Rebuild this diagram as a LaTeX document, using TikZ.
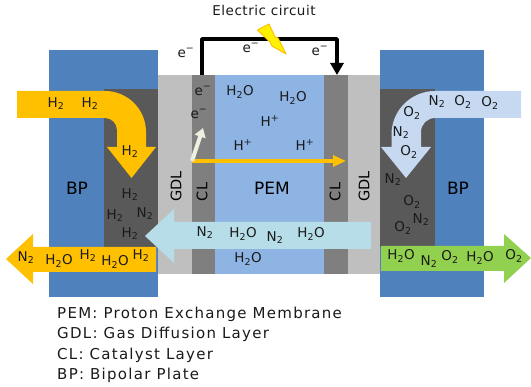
\documentclass[tikz,border=0pt]{standalone}
\usepackage{fontspec}
\setmainfont{DejaVu Sans}
\newfontfamily\legendfont[LetterSpace=8.5]{DejaVu Sans}
\newfontfamily\titlefont[LetterSpace=4]{DejaVu Sans}
\usetikzlibrary{arrows.meta}

\definecolor{bpblue}{HTML}{4F81BD}
\definecolor{darklayer}{HTML}{595959}
\definecolor{gdlgray}{HTML}{BFBFBF}
\definecolor{clgray}{HTML}{7F7F7F}
\definecolor{pemblue}{HTML}{8EB4E3}
\definecolor{fuelorange}{HTML}{FFC000}
\definecolor{airblue}{HTML}{C6D9F1}
\definecolor{waterblue}{HTML}{B7DDE8}
\definecolor{exitgreen}{HTML}{92D050}
\definecolor{electronivory}{HTML}{EBF1DE}
\definecolor{inktext}{HTML}{1A1A1A}

\newcommand{\Htwo}{H\textsubscript{2}}
\newcommand{\Ntwo}{N\textsubscript{2}}
\newcommand{\Otwo}{O\textsubscript{2}}
\newcommand{\water}{H\textsubscript{2}O}
\newcommand{\elec}{e\textsuperscript{−}}

\tikzset{
    species/.style={font=\fontsize{13.5}{15}\selectfont, text=inktext, inner sep=0pt},
    titleline/.style={font=\titlefont\fontsize{13.5}{15}\selectfont, text=inktext, inner sep=0pt},
    layerlabel/.style={font=\fontsize{17}{19}\selectfont, text=black, inner sep=0pt},
    sidelabel/.style={font=\fontsize{14.5}{17}\selectfont, text=black, inner sep=0pt, rotate=90},
    legendline/.style={font=\legendfont\fontsize{15}{18}\selectfont, text=inktext, inner sep=0pt, anchor=west},
}

\begin{document}
\begin{tikzpicture}[x=1pt, y=-1pt]
    \useasboundingbox (0,0) rectangle (531,387);

    % Plates and layers
    \fill[bpblue] (49,50.5) rectangle (158,297);
    \fill[bpblue] (380,50.5) rectangle (484,297);
    \fill[darklayer] (104,89) rectangle (158,247);
    \fill[darklayer] (380,89) rectangle (435,247);
    \fill[gdlgray] (158,75) rectangle (192,274);
    \fill[clgray] (192,75) rectangle (215,274);
    \fill[pemblue] (215,75) rectangle (324,274);
    \fill[clgray] (324,75) rectangle (348,274);
    \fill[gdlgray] (348,75) rectangle (380,274);

    % Electric circuit
    \coordinate (wirestart) at (202,75);
    \coordinate (wireleft) at (202,39);
    \coordinate (wireright) at (337,39);
    \coordinate (wireend) at (337,75);
    \draw[line width=3.5pt, line join=round, -{Triangle[length=12pt, width=13pt]}]
        (wirestart) -- (wireleft) -- (wireright) -- (wireend);

    % Lightning bolt
    \filldraw[fill=yellow, draw=fuelorange, line width=1pt, line join=round]
        (257.5,30) -- (269,24) -- (275,37) -- (278,38) -- (286,54) -- (272,46) -- (270,42) -- cycle;

    % Hydrogen inlet
    \fill[fuelorange] (17,91) -- (105,91) arc[start angle=-90, end angle=0, radius=41] -- (146,147)
        -- (156,147) -- (131.5,178) -- (107,147) -- (117,147) -- (117,130)
        arc[start angle=0, end angle=-90, radius=12] -- (17,118) -- cycle;

    % Air inlet
    \fill[airblue] (521,91) -- (435,91) arc[start angle=-90, end angle=-180, radius=43.5] -- (391.5,147)
        -- (381,147) -- (406,178) -- (431,147) -- (421,147) -- (421,132)
        arc[start angle=180, end angle=270, radius=14] -- (521,118) -- cycle;

    % Water crossing the membrane
    \fill[waterblue] (371,222) -- (174,222) -- (174,209) -- (145,236) -- (174,263) -- (174,249)
        -- (371,249) -- cycle;

    % Anode exhaust
    \fill[fuelorange] (156,247) -- (33,247) -- (33,234) -- (6,259) -- (33,284) -- (33,272)
        -- (156,272) -- cycle;

    % Cathode exhaust
    \fill[exitgreen] (381,246) -- (504,246) -- (504,234) -- (531,258) -- (504,283) -- (504,271)
        -- (381,271) -- cycle;

    % Thin arrows inside the cell
    \coordinate (chargeorigin) at (192,161);
    \coordinate (protonend) at (346,161);
    \coordinate (electronend) at (203,128);
    \draw[fuelorange, line width=3.5pt, -{Triangle[length=13pt, width=11pt]}] (chargeorigin) -- (protonend);
    \draw[electronivory, line width=4pt, -{Triangle[length=9pt, width=11pt]}] (chargeorigin) -- (electronend);

    % Circuit labels
    \node[titleline] (circuitlabel) at (264,10) {Electric circuit};
    \node[species] (wireeleft) at (186,53) {\elec};
    \node[species] (wireemid) at (251,48) {\elec};
    \node[species] (wireeright) at (320,51) {\elec};

    % Layer labels
    \node[layerlabel] (bpleft) at (77,188) {BP};
    \node[layerlabel] (bpright) at (458,188) {BP};
    \node[layerlabel] (pemlabel) at (272,188) {PEM};
    \node[sidelabel] (gdlleft) at (176,186.5) {GDL};
    \node[sidelabel] (clleft) at (202,192) {CL};
    \node[sidelabel] (clright) at (335,192) {CL};
    \node[sidelabel] (gdlright) at (364,186.5) {GDL};

    % Left channel
    \node[species] (hinone) at (56,104) {\Htwo};
    \node[species] (hintwo) at (90,104) {\Htwo};
    \node[species] (hinthree) at (130,152) {\Htwo};
    \node[species] (hgasone) at (130,195) {\Htwo};
    \node[species] (hgastwo) at (115,216) {\Htwo};
    \node[species] (ngasleft) at (145,214) {\Ntwo};
    \node[species] (hgasthree) at (130,234) {\Htwo};

    % Anode exhaust labels
    \node[species] (nexleft) at (26,258) {\Ntwo};
    \node[species] (wexone) at (59,261) {\water};
    \node[species] (hexone) at (88,256) {\Htwo};
    \node[species] (wextwo) at (115,262) {\water};
    \node[species] (hextwo) at (141,256) {\Htwo};

    % Electrode and membrane labels
    \node[species] (ecatone) at (203,91) {\elec};
    \node[species] (ecattwo) at (199,114) {\elec};
    \node[species] (wpemone) at (240,92) {\water};
    \node[species] (wpemtwo) at (293,98) {\water};
    \node[species] (hplusone) at (270,121) {H\textsuperscript{+}};
    \node[species] (hplustwo) at (243,145) {H\textsuperscript{+}};
    \node[species] (hplusthree) at (305,145) {H\textsuperscript{+}};

    % Water arrow labels
    \node[species] (nwaterone) at (205,233) {\Ntwo};
    \node[species] (wwaterone) at (243,234) {\water};
    \node[species] (nwatertwo) at (275,238) {\Ntwo};
    \node[species] (wwatertwo) at (311,234) {\water};
    \node[species] (wpembottom) at (248,259) {\water};

    % Right channel
    \node[species] (ninright) at (437,102) {\Ntwo};
    \node[species] (oinone) at (463,102) {\Otwo};
    \node[species] (ointwo) at (490,103) {\Otwo};
    \node[species] (ointhree) at (412,113) {\Otwo};
    \node[species] (ninlow) at (401,133) {\Ntwo};
    \node[species] (oinfour) at (409,152) {\Otwo};
    \node[species] (ngasone) at (393,180) {\Ntwo};
    \node[species] (ogasone) at (412,202) {\Otwo};
    \node[species] (ngastwo) at (421,220) {\Ntwo};
    \node[species] (ogastwo) at (403,228) {\Otwo};

    % Cathode exhaust labels
    \node[species] (wgreenone) at (401,256) {\water};
    \node[species] (ngreen) at (429,262) {\Ntwo};
    \node[species] (ogreenone) at (450,257) {\Otwo};
    \node[species] (wgreentwo) at (480,258) {\water};
    \node[species] (ogreentwo) at (514,256) {\Otwo};

    % Legend
    \node[legendline] (legendpem) at (57,314) {PEM: Proton Exchange Membrane};
    \node[legendline] (legendgdl) at (57,334) {GDL: Gas Diffusion Layer};
    \node[legendline] (legendcl) at (57,355) {CL: Catalyst Layer};
    \node[legendline] (legendbp) at (57,375) {BP: Bipolar Plate};
\end{tikzpicture}
\end{document}
